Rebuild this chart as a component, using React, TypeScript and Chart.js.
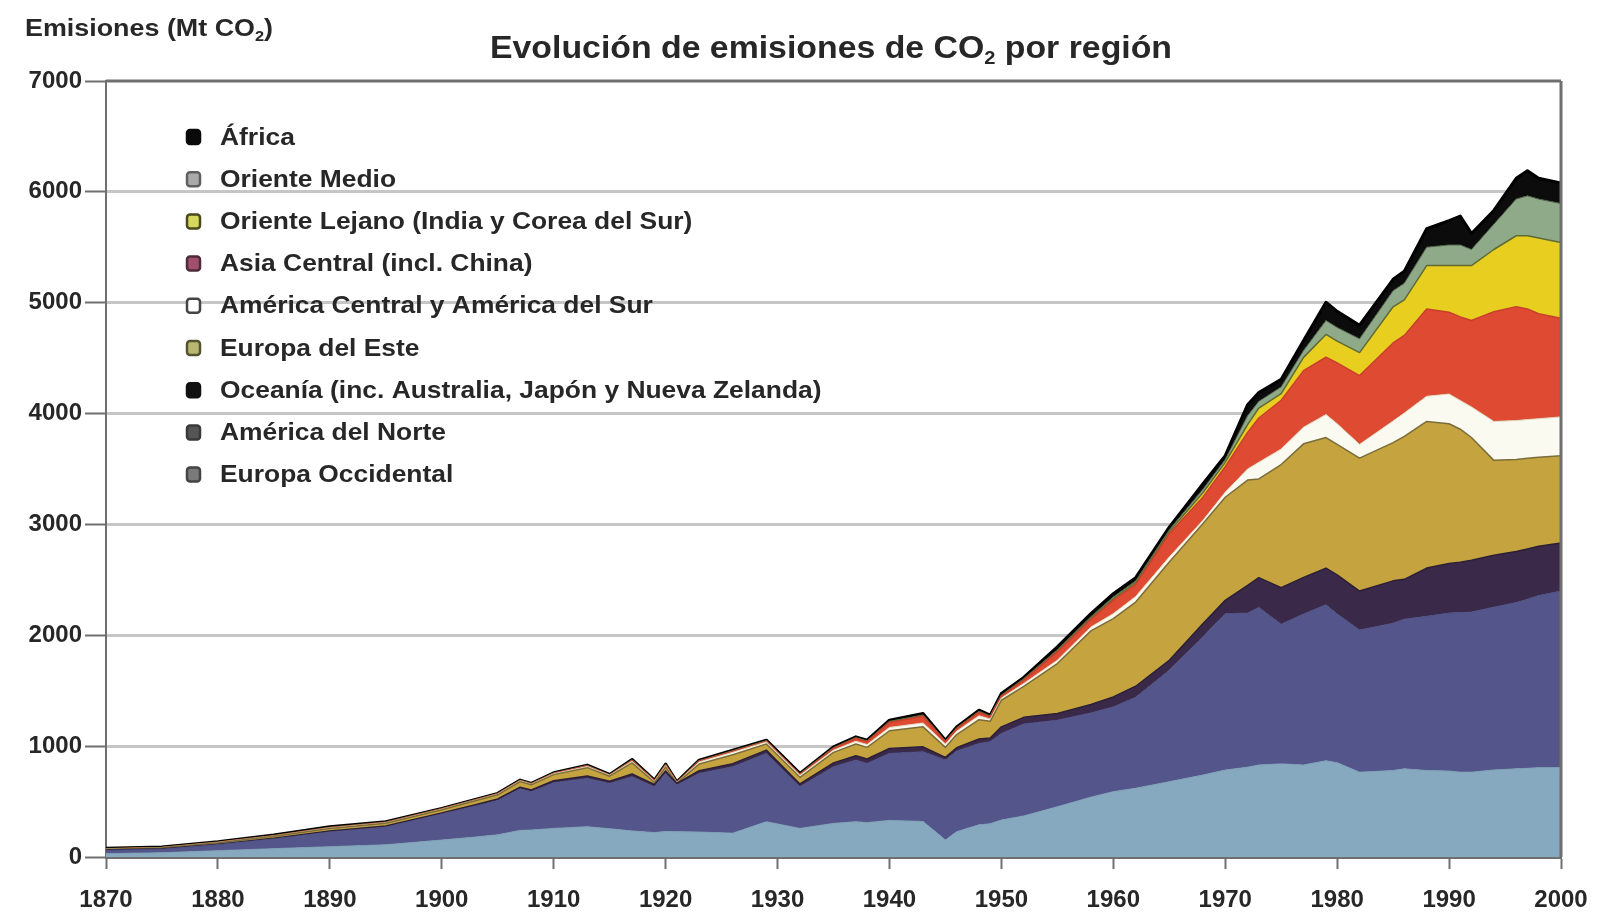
import { useEffect, useRef } from "react";
import { Chart, registerables } from "chart.js";

Chart.register(...registerables);

// ---------------- DATA ----------------
const years = [
  1870, 1875, 1880, 1885, 1890, 1895, 1900, 1903, 1905, 1907, 1908, 1910, 1913, 1915, 1917, 1919, 1920, 1921,
  1923, 1926, 1929, 1932, 1935, 1937, 1938, 1940, 1943, 1945, 1946, 1948, 1949, 1950, 1952, 1955, 1958, 1960,
  1962, 1965, 1968, 1970, 1972, 1973, 1975, 1977, 1979, 1980, 1982, 1985, 1986, 1988, 1990, 1991, 1992, 1994,
  1996, 1997, 1998, 2000,
];

const europaOccidental = [
  30, 38, 57, 75, 93, 110, 153, 180, 200, 240, 243, 258, 273, 255, 235, 220, 230, 228,
  225, 215, 318, 258, 303, 318, 310, 330, 320, 153, 228, 290, 300, 333, 370, 453, 540, 589,
  620, 679, 739, 784, 810, 830, 840, 830, 868, 850, 765, 780, 795, 780, 775, 765, 765, 785,
  795, 800, 806, 806,
];

const americaDelNorte = [
  30, 33, 55, 88, 133, 160, 235, 280, 310, 375, 346, 412, 436, 409, 489, 414, 524, 421,
  529, 599, 616, 376, 511, 556, 534, 604, 629, 721, 727, 734, 739, 781, 830, 781, 760, 765,
  820, 1006, 1246, 1411, 1390, 1420, 1260, 1362, 1407, 1342, 1282, 1329, 1350, 1391, 1425, 1440, 1444, 1469,
  1500, 1525, 1552, 1593,
];

const oceania = [
  3, 3, 4, 6, 8, 9, 10, 12, 13, 15, 15, 18, 22, 20, 25, 20, 22, 15,
  25, 28, 30, 25, 35, 40, 40, 45, 45, 25, 30, 40, 35, 60, 60, 60, 75, 90,
  100, 90, 120, 120, 250, 270, 330, 330, 331, 352, 352, 382, 360, 435, 448, 455, 467, 468,
  460, 454, 446, 434,
];

const europaDelEste = [
  8, 9, 13, 18, 24, 26, 28, 35, 38, 50, 47, 55, 75, 45, 100, 20, 35, 3,
  60, 80, 55, 60, 95, 105, 105, 160, 180, 90, 120, 175, 150, 240, 280, 451, 665, 706,
  760, 886, 901, 930, 950, 890, 1110, 1205, 1178, 1178, 1199, 1247, 1290, 1323, 1260, 1199, 1108, 856,
  831, 819, 803, 786,
];

const americaCentralSur = [
  1, 1, 2, 3, 4, 4, 5, 5, 6, 7, 6, 8, 10, 8, 15, 10, 13, 5,
  18, 22, 18, 18, 20, 25, 25, 30, 35, 30, 30, 35, 20, 20, 25, 30, 35, 45,
  50, 45, 30, 45, 100, 150, 140, 150, 207, 186, 124, 195, 210, 227, 268, 259, 276, 351,
  351, 348, 347, 351,
];

const asiaCentral = [
  1, 1, 1, 1, 2, 2, 2, 2, 2, 2, 2, 3, 4, 2, 5, 3, 5, 2,
  6, 8, 6, 7, 15, 25, 25, 45, 60, 20, 20, 30, 20, 15, 30, 75, 70, 120,
  110, 210, 210, 230, 330, 400, 440, 510, 517, 550, 620, 704, 700, 787, 738, 754, 779, 989,
  1026, 997, 947, 890,
];

const orienteLejano = [
  1, 1, 1, 1, 2, 2, 2, 2, 2, 2, 2, 2, 3, 2, 4, 2, 3, 1,
  4, 4, 3, 3, 5, 5, 5, 6, 8, 4, 5, 6, 5, 6, 8, 10, 12, 15,
  15, 18, 40, 40, 70, 90, 60, 120, 206, 195, 208, 326, 320, 392, 421, 463, 496, 562,
  641, 661, 683, 682,
];

const orienteMedio = [
  0, 0, 0, 0, 0, 0, 0, 0, 0, 0, 0, 0, 1, 0, 1, 0, 1, 0,
  1, 1, 1, 1, 2, 2, 2, 3, 4, 3, 4, 4, 3, 5, 6, 10, 10, 15,
  15, 17, 30, 25, 80, 60, 60, 61, 125, 123, 124, 145, 150, 166, 186, 186, 145, 228,
  331, 360, 351, 352,
];

const africa = [
  4, 4, 5, 6, 7, 5, 3, 3, 3, 3, 3, 4, 5, 4, 6, 5, 5, 4,
  6, 7, 7, 6, 8, 8, 8, 11, 13, 8, 10, 10, 7, 15, 11, 25, 28, 30,
  30, 25, 50, 35, 100, 80, 70, 90, 165, 146, 123, 103, 110, 166, 220, 260, 145, 124,
  187, 226, 187, 186,
];

const seriesNames = [
  "Europa Occidental",
  "América del Norte",
  "Oceanía (inc. Australia, Japón y Nueva Zelanda)",
  "Europa del Este",
  "América Central y América del Sur",
  "Asia Central (incl. China)",
  "Oriente Lejano (India y Corea del Sur)",
  "Oriente Medio",
  "África",
];

const seriesValues = [
  europaOccidental,
  americaDelNorte,
  oceania,
  europaDelEste,
  americaCentralSur,
  asiaCentral,
  orienteLejano,
  orienteMedio,
  africa,
];

const xTickLabels = [1870, 1880, 1890, 1900, 1910, 1920, 1930, 1940, 1950, 1960, 1970, 1980, 1990, 2000];
const yTickLabels = [0, 1000, 2000, 3000, 4000, 5000, 6000, 7000];

const titleParts = ["Evolución de emisiones de CO", "2", " por región"];
const axisTitleParts = ["Emisiones (Mt CO", "2", ")"];

// ---------------- STYLES ----------------
const fillColors = ["#87a9bf", "#54568b", "#3b2949", "#c5a43f", "#fbfaf1", "#df4a33", "#e8cf1f", "#8eaa89", "#0c0c0c"];
const borderColors = ["#7d9fb5", "#4c4e80", "#2c1f38", "#7b6d3a", "#ddd6b8", "#c8402c", "#5f6a34", "#4d5c45", "#000000"];
const borderWidths = [1, 1, 1.5, 1.5, 1, 1.5, 1.5, 1, 3];

// legend marker styles, indexed like seriesNames
const markerFill = ["#7a7a7a", "#555555", "#111111", "#b9b872", "#ffffff", "#a24f6c", "#d6d85c", "#aaaaaa", "#0a0a0a"];
const markerStroke = ["#444444", "#3a3a3a", "#111111", "#55542e", "#444444", "#4f2b3a", "#4a4a1c", "#606060", "#0a0a0a"];

const FONT = "'Liberation Sans', Arial, sans-serif";
const TEXT_COLOR = "#272727";

const textPlugin = {
  id: "customTexts",
  afterDatasetsDraw(chart: any) {
    const ctx = chart.ctx as CanvasRenderingContext2D;
    const area = chart.chartArea;
    const yScale = chart.scales.y;
    ctx.save();
    ctx.strokeStyle = "#6f6f6f";
    ctx.lineWidth = 3;
    ctx.beginPath();
    const yTop = yScale.getPixelForValue(7000);
    ctx.moveTo(area.left, yTop);
    ctx.lineTo(area.right, yTop);
    ctx.moveTo(area.right, yTop);
    ctx.lineTo(area.right, area.bottom);
    ctx.stroke();
    ctx.restore();
  },
  afterDraw(chart: any) {
    const ctx = chart.ctx as CanvasRenderingContext2D;

    const drawParts = (
      parts: string[],
      x: number,
      baseline: number,
      size: number,
      subSize: number,
      subDrop: number,
      targetWidth: number
    ) => {
      ctx.save();
      ctx.fillStyle = TEXT_COLOR;
      ctx.textBaseline = "alphabetic";
      ctx.textAlign = "left";
      const big = `bold ${size}px ${FONT}`;
      const small = `bold ${subSize}px ${FONT}`;
      ctx.font = big;
      const w1 = ctx.measureText(parts[0]).width;
      const w3 = ctx.measureText(parts[2]).width;
      ctx.font = small;
      const w2 = ctx.measureText(parts[1]).width;
      const total = w1 + w2 + w3;
      const sx = targetWidth / total;
      ctx.translate(x, baseline);
      ctx.scale(sx, 1);
      ctx.font = big;
      ctx.fillText(parts[0], 0, 0);
      ctx.font = small;
      ctx.fillText(parts[1], w1, subDrop);
      ctx.font = big;
      ctx.fillText(parts[2], w1 + w2, 0);
      ctx.restore();
    };

    drawParts(titleParts, 490, 58, 32, 19, 6, 682);
    drawParts(axisTitleParts, 25, 36, 23, 14, 5, 248);

    const rowStart = 137;
    const rowStep = 42.2;
    const n = seriesNames.length;
    ctx.save();
    ctx.font = `bold 24px ${FONT}`;
    ctx.textBaseline = "middle";
    ctx.textAlign = "left";
    for (let k = 0; k < n; k++) {
      const idx = n - 1 - k;
      const cy = rowStart + k * rowStep;
      ctx.fillStyle = markerFill[idx];
      ctx.strokeStyle = markerStroke[idx];
      ctx.lineWidth = 2.5;
      ctx.beginPath();
      (ctx as any).roundRect(187, cy - 7, 13, 14, 3);
      ctx.fill();
      ctx.stroke();
      ctx.save();
      ctx.translate(220, cy + 1);
      ctx.scale(1.1, 1);
      ctx.fillStyle = TEXT_COLOR;
      ctx.fillText(seriesNames[idx], 0, 0);
      ctx.restore();
    }
    ctx.restore();
  },
};

export default function App() {
  const canvasRef = useRef<HTMLCanvasElement | null>(null);

  useEffect(() => {
    const canvas = canvasRef.current;
    if (!canvas) return;

    const datasets = seriesValues.map((vals, i) => ({
      label: seriesNames[i],
      data: years.map((yr, j) => ({ x: yr, y: vals[j] })),
      backgroundColor: fillColors[i],
      borderColor: borderColors[i],
      borderWidth: borderWidths[i],
      fill: i === 0 ? "origin" : "-1",
      pointRadius: 0,
      pointHoverRadius: 0,
      tension: 0,
      borderJoinStyle: "round" as const,
    }));

    const chart = new Chart(canvas, {
      type: "line",
      data: { datasets },
      plugins: [textPlugin],
      options: {
        responsive: false,
        devicePixelRatio: 1,
        animation: false,
        events: [],
        layout: { padding: { top: 81, right: 57, left: 0, bottom: 0 } },
        plugins: {
          legend: { display: false },
          title: { display: false },
          tooltip: { enabled: false },
        },
        scales: {
          x: {
            type: "linear",
            min: 1870,
            max: 2000,
            afterBuildTicks: (scale: any) => {
              scale.ticks = xTickLabels.map((v) => ({ value: v }));
            },
            afterFit: (scale: any) => {
              scale.height = 57;
            },
            ticks: {
              autoSkip: false,
              maxRotation: 0,
              minRotation: 0,
              padding: 17,
              color: TEXT_COLOR,
              font: { family: FONT, weight: "bold", size: 24 },
              callback: (v: any) => String(v),
            },
            grid: {
              display: true,
              drawOnChartArea: false,
              drawTicks: true,
              tickLength: 12,
              tickColor: "#6f6f6f",
              tickWidth: 2,
            },
            border: { display: true, color: "#6f6f6f", width: 3 },
          },
          y: {
            type: "linear",
            stacked: true,
            min: 0,
            max: 7000,
            afterBuildTicks: (scale: any) => {
              scale.ticks = yTickLabels.map((v) => ({ value: v }));
            },
            afterFit: (scale: any) => {
              scale.width = 106;
            },
            ticks: {
              padding: 3,
              color: TEXT_COLOR,
              font: { family: FONT, weight: "bold", size: 24 },
              callback: (v: any) => String(v),
            },
            grid: {
              color: (c: any) =>
                c.tick && (c.tick.value === 0 || c.tick.value === 7000) ? "rgba(0,0,0,0)" : "#c6c6c6",
              lineWidth: 3,
              drawTicks: true,
              tickLength: 21,
              tickColor: "#6f6f6f",
              tickWidth: 2,
            },
            border: { display: true, color: "#6f6f6f", width: 2 },
          },
        },
      } as any,
    });

    return () => {
      chart.destroy();
    };
  }, []);

  return (
    <div style={{ position: "fixed", left: 0, top: 0, width: 1618, height: 914, background: "#ffffff" }}>
      <canvas ref={canvasRef} width={1618} height={914} style={{ width: 1618, height: 914, display: "block" }} />
    </div>
  );
}
